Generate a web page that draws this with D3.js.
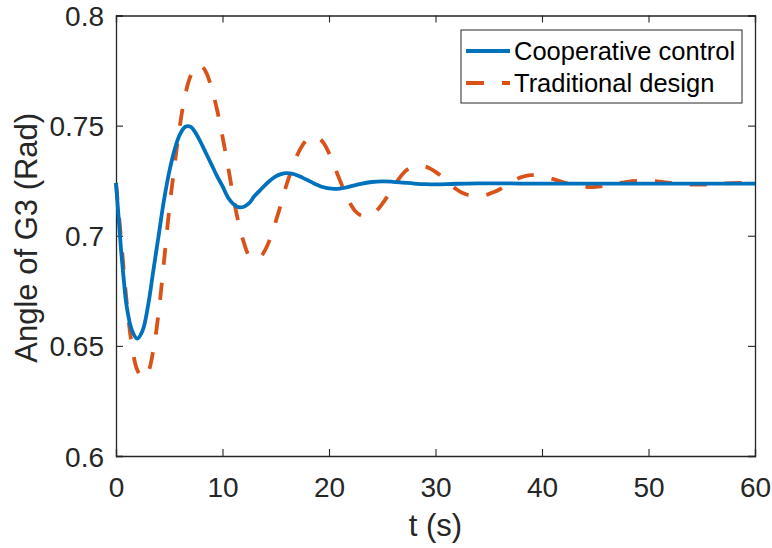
<!DOCTYPE html>
<html>
<head>
<meta charset="utf-8">
<script src="https://cdn.jsdelivr.net/npm/d3@7/dist/d3.min.js"></script>
<style>
html,body{margin:0;padding:0;background:#fff;}
svg{display:block;font-family:"Liberation Sans",Arial,Helvetica,sans-serif;}
</style>
</head>
<body>
<svg id="chart" width="772" height="548"></svg>
<script>
// ---- data ----
const seriesNames = ["Cooperative control", "Traditional design"];
const xTicks = [0, 10, 20, 30, 40, 50, 60];
const yTicks = [0.6, 0.65, 0.7, 0.75, 0.8];
const yTickLabels = ["0.6", "0.65", "0.7", "0.75", "0.8"];

const coopT = [0,0.25,0.5,0.75,1,1.5,2,2.5,3,3.5,4,4.5,5,5.5,6,6.5,7,7.5,8,8.5,9,9.5,10,10.5,11,11.5,12,12.5,13,13.5,14,14.5,15,15.5,16,16.5,17,17.5,18,18.5,19,19.5,20,20.5,21,21.5,22,22.5,23,24,25,26,27,28,29,30,31,32,34,36,38,40,45,50,55,60];
const coopV = [0.724,0.708,0.692,0.679,0.668,0.657,0.6533,0.657,0.668,0.684,0.700,0.716,0.729,0.739,0.746,0.7495,0.7495,0.7465,0.742,0.737,0.732,0.727,0.7225,0.7175,0.7145,0.7130,0.7132,0.7148,0.7180,0.7205,0.7230,0.7252,0.7270,0.7280,0.7284,0.7282,0.7275,0.7264,0.7252,0.7240,0.7229,0.7220,0.7215,0.7213,0.7214,0.7218,0.7224,0.7230,0.7236,0.7244,0.7247,0.7245,0.7241,0.7237,0.7234,0.7233,0.7234,0.7236,0.7238,0.7238,0.7237,0.7237,0.7237,0.7237,0.7237,0.7237];

const tradT = [0,0.5,1,1.5,2,2.5,3,3.5,4,4.5,5,5.5,6,6.5,7,7.5,8,8.5,9,9.5,10,10.5,11,11.5,12,12.5,13,13.5,14,14.5,15,15.5,16,16.5,17,17.5,18,18.5,19,19.5,20,20.5,21,21.5,22,22.5,23,23.5,24,24.5,25,25.5,26,26.5,27,27.5,28,28.5,29,29.5,30,30.5,31,31.5,32,32.5,33,33.5,34,34.5,35,35.5,36,36.5,37,37.5,38,38.5,39,39.5,40,41,42,43,44,44.5,45,46,47,48,49,50,51,52,53,54,55,56,57,58,59,60];
const tradV = [0.724,0.697,0.670,0.650,0.639,0.6355,0.638,0.648,0.665,0.688,0.712,0.732,0.750,0.764,0.7725,0.7768,0.7772,0.7738,0.7665,0.757,0.745,0.732,0.718,0.706,0.697,0.691,0.6895,0.690,0.6935,0.699,0.7065,0.7145,0.723,0.730,0.7365,0.741,0.744,0.745,0.7445,0.742,0.7375,0.7315,0.7255,0.7195,0.7145,0.711,0.7092,0.7088,0.7095,0.7115,0.7145,0.718,0.722,0.7255,0.7285,0.7305,0.7315,0.7318,0.7315,0.7305,0.729,0.7272,0.725,0.7228,0.721,0.7195,0.7186,0.7181,0.718,0.7182,0.7189,0.7199,0.721,0.7225,0.7242,0.7255,0.7265,0.7272,0.7275,0.7274,0.727,0.7258,0.7243,0.7231,0.7223,0.7221,0.7222,0.7228,0.7237,0.7245,0.7249,0.7249,0.7246,0.724,0.7235,0.7232,0.7232,0.7234,0.7237,0.7239,0.724,0.724];

// ---- layout ----
const svg = d3.select("#chart");
const L = 116, R = 755, T = 15.5, B = 456;
const axisColor = "#262626";
const x = d3.scaleLinear().domain([0, 60]).range([L, R]);
const y = d3.scaleLinear().domain([0.6, 0.8]).range([B, T]);

// axes (MATLAB-style box with inward ticks)
const tickLen = 7;
const gx = svg.append("g").attr("transform", `translate(0,${B})`)
  .call(d3.axisBottom(x).tickValues(xTicks).tickSize(-tickLen).tickPadding(12).tickFormat(d3.format("d")));
const gxt = svg.append("g").attr("transform", `translate(0,${T})`)
  .call(d3.axisTop(x).tickValues(xTicks).tickSize(-tickLen).tickFormat(""));
const gy = svg.append("g").attr("transform", `translate(${L},0)`)
  .call(d3.axisLeft(y).tickValues(yTicks).tickSize(-tickLen).tickPadding(12).tickFormat((d,i)=>yTickLabels[i]));
const gyr = svg.append("g").attr("transform", `translate(${R},0)`)
  .call(d3.axisRight(y).tickValues(yTicks).tickSize(-tickLen).tickFormat(""));

[gx, gxt, gy, gyr].forEach(g => {
  g.select(".domain").attr("stroke", axisColor).attr("stroke-width", 1.3);
  g.selectAll(".tick line").attr("stroke", axisColor).attr("stroke-width", 1.1);
  g.selectAll(".tick text").attr("fill", axisColor).attr("font-size", 28)
    .attr("font-family", '"Liberation Sans",Arial,sans-serif');
});
gx.selectAll(".tick text").attr("dy", null).attr("y", 40.5);
gy.selectAll(".tick text").attr("dy", null).attr("y", 10).attr("x", -12);

// lines
const lineGen = d3.line().x(d => x(d[0])).y(d => y(d[1])).curve(d3.curveCatmullRom.alpha(0.5));
const coopData = coopT.map((t, i) => [t, coopV[i]]);
const tradData = tradT.map((t, i) => [t, tradV[i]]);

svg.append("path").datum(tradData)
  .attr("d", lineGen).attr("fill", "none")
  .attr("stroke", "#D95319").attr("stroke-width", 3.8)
  .attr("stroke-dasharray", "17,18");
svg.append("path").datum(coopData)
  .attr("d", lineGen).attr("fill", "none")
  .attr("stroke", "#0072BD").attr("stroke-width", 3.8);

// labels
svg.append("text").attr("x", (L + R) / 2).attr("y", 536)
  .attr("text-anchor", "middle").attr("font-size", 31).attr("fill", axisColor)
  .text("t (s)");
svg.append("text").attr("transform", `translate(37,${(T + B) / 2 + 2}) rotate(-90)`)
  .attr("text-anchor", "middle").attr("font-size", 31).attr("fill", axisColor)
  .text("Angle of G3 (Rad)");

// legend
const lg = svg.append("g");
lg.append("rect").attr("x", 461).attr("y", 30).attr("width", 281).attr("height", 73)
  .attr("fill", "#fff").attr("stroke", axisColor).attr("stroke-width", 1);
const legendColors = ["#0072BD", "#D95319"];
const legendDash = [null, "18,18"];
const legendY = [51, 83];
seriesNames.forEach((name, i) => {
  lg.append("line").attr("x1", 466).attr("x2", 510).attr("y1", legendY[i]).attr("y2", legendY[i])
    .attr("stroke", legendColors[i]).attr("stroke-width", 3.8)
    .attr("stroke-dasharray", legendDash[i]);
  lg.append("text").attr("x", 514).attr("y", legendY[i] + 9)
    .attr("font-size", 25.5).attr("fill", "#000").text(name);
});
</script>
</body>
</html>
